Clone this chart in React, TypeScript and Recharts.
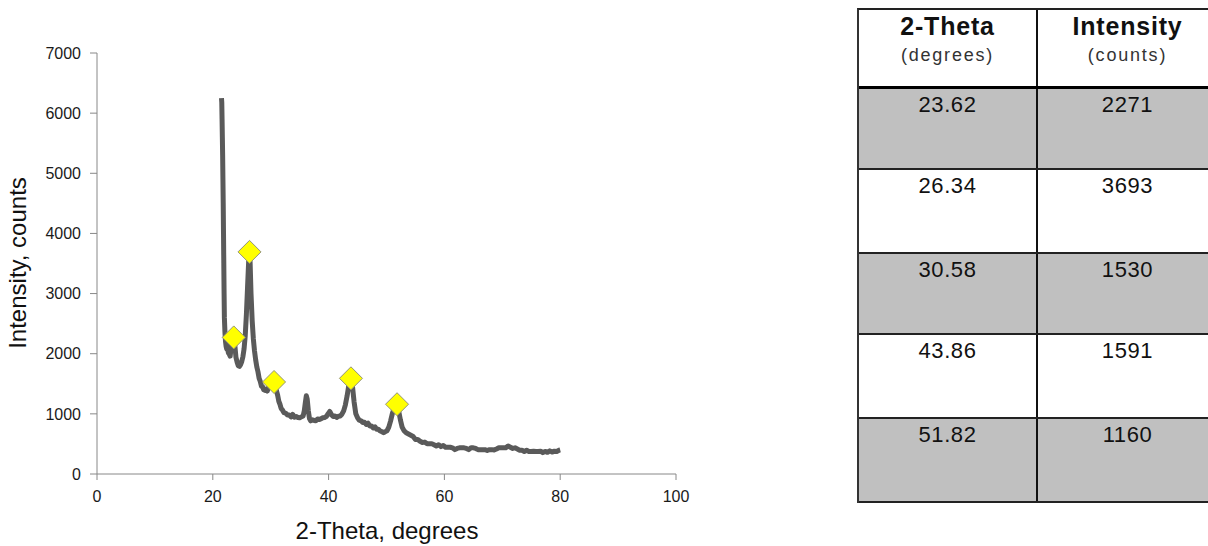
import { ComposedChart, Line, Scatter, XAxis, YAxis } from "recharts";

// diffraction scan
const theta = [
  21.5, 21.55, 21.6, 21.65, 21.7, 21.75, 21.8, 21.85, 21.9, 21.95, 22.0, 22.1, 22.2, 22.3, 22.4, 22.5,
  22.6, 22.7, 22.8, 22.9, 23.0, 23.1, 23.2, 23.3, 23.4, 23.5, 23.62, 23.7, 23.8, 23.9, 24.0, 24.2,
  24.4, 24.6, 24.8, 25.0, 25.2, 25.4, 25.6, 25.8, 26.0, 26.2, 26.34, 26.45, 26.6, 26.8, 27.0, 27.2,
  27.4, 27.6, 27.8, 28.0, 28.2, 28.4, 28.6, 28.8, 29.0, 29.2, 29.4, 29.6, 29.8, 30.0, 30.2, 30.4,
  30.58, 30.8, 31.0, 31.2, 31.4, 31.6, 31.8, 32.0, 32.3, 32.6, 32.9, 33.2, 33.5, 33.8, 34.1, 34.4,
  34.7, 35.0, 35.3, 35.6, 35.8, 36.0, 36.15, 36.3, 36.5, 36.7, 36.9, 37.2, 37.5, 37.8, 38.1, 38.4,
  38.7, 39.0, 39.3, 39.6, 39.9, 40.2, 40.5, 40.8, 41.1, 41.4, 41.7, 42.0, 42.3, 42.6, 42.9, 43.2,
  43.5, 43.86, 44.1, 44.4, 44.7, 45.0, 45.3, 45.6, 45.9, 46.2, 46.5, 46.8, 47.1, 47.4, 47.7, 48.0,
  48.3, 48.6, 48.9, 49.2, 49.5, 49.8, 50.1, 50.4, 50.7, 51.0, 51.4, 51.82, 52.1, 52.4, 52.7, 53.0,
  53.4, 53.8, 54.2, 54.6, 55.0, 55.4, 55.8, 56.2, 56.6, 57.0, 57.4, 57.8, 58.2, 58.6, 59.0, 59.4,
  59.8, 60.2, 60.6, 61.0, 61.4, 61.8, 62.2, 62.6, 63.0, 63.4, 63.8, 64.2, 64.6, 65.0, 65.4, 65.8,
  66.2, 66.6, 67.0, 67.4, 67.8, 68.2, 68.6, 69.0, 69.4, 69.8, 70.2, 70.6, 71.0, 71.4, 71.8, 72.2,
  72.6, 73.0, 73.4, 73.8, 74.2, 74.6, 75.0, 75.4, 75.8, 76.2, 76.6, 77.0, 77.4, 77.8, 78.2, 78.6,
  79.0, 79.4, 79.8, 80.0,
];
const counts = [
  6250, 6180, 5900, 5600, 5300, 4900, 4500, 4000, 3500, 3000, 2600, 2350, 2200, 2120, 2080, 2140,
  2060, 2010, 2080, 1980, 1960, 2050, 2120, 2180, 2230, 2260, 2271, 2240, 2150, 2040, 1940, 1860,
  1800, 1790, 1820, 1870, 1950, 2080, 2300, 2650, 3100, 3550, 3693, 3500, 3000, 2550, 2250, 2050,
  1900, 1780, 1700, 1590, 1540, 1460, 1450, 1400, 1390, 1410, 1380, 1430, 1440, 1480, 1500, 1530,
  1530, 1480, 1380, 1310, 1210, 1160, 1090, 1070, 1020, 1010, 980, 980, 950, 990, 945, 955,
  940, 935, 950, 965, 1050, 1200, 1300, 1250, 1050, 920, 885, 900, 890, 885, 915, 905,
  920, 935, 940, 955, 1000, 1040, 985, 955, 965, 940, 960, 965, 995, 1050, 1150, 1300,
  1480, 1591, 1480, 1200, 1000, 935, 895, 885, 855, 860, 825, 845, 800, 800, 765, 785,
  745, 745, 715, 705, 685, 705, 720, 780, 880, 1000, 1120, 1160, 1050, 900, 780, 725,
  685, 665, 645, 625, 575, 575, 545, 525, 530, 505, 505, 505, 485, 465, 485, 455,
  475, 445, 445, 445, 435, 405, 425, 435, 435, 435, 425, 405, 435, 435, 425, 405,
  405, 405, 405, 390, 405, 405, 400, 415, 435, 435, 435, 435, 465, 445, 425, 435,
  415, 395, 395, 375, 395, 375, 375, 380, 375, 375, 380, 355, 375, 360, 385, 365,
  380, 375, 395, 400,
];

const peakTheta = [23.62, 26.34, 30.58, 43.86, 51.82];
const peakCounts = [2271, 3693, 1530, 1591, 1160];

const xTicks = [0, 20, 40, 60, 80, 100];
const yTicks = [0, 1000, 2000, 3000, 4000, 5000, 6000, 7000];

const scan = theta.map((t, i) => ({ theta: t, counts: counts[i] }));
const peaks = peakTheta.map((t, i) => ({ theta: t, counts: peakCounts[i] }));

const rowHeights = [79, 81, 84, 81, 84, 84];

function Diamond(props: any) {
  const { cx, cy } = props;
  const r = 11.5;
  return (
    <polygon
      points={`${cx},${cy - r} ${cx + r},${cy} ${cx},${cy + r} ${cx - r},${cy}`}
      fill="#ffff00"
      stroke="#949477"
      strokeWidth={1}
    />
  );
}

const cellText = { fontSize: 22, lineHeight: "26px", paddingTop: 3, letterSpacing: 0.6, color: "#111" };

function PeakTable() {
  const cell = (i: number, w: number) => ({
    width: w,
    height: "100%",
    boxSizing: "border-box" as const,
    borderRight: "2px solid #111",
    textAlign: "center" as const,
    background: i % 2 === 1 ? "#c0c0c0" : "#fff",
  });
  return (
    <div
      style={{
        position: "absolute",
        left: 857,
        top: 8,
        width: 364,
        borderTop: "2px solid #222",
        borderLeft: "2px solid #333",
        boxSizing: "border-box",
      }}
    >
      <div
        style={{ display: "flex", height: rowHeights[0], borderBottom: "3px solid #000", boxSizing: "border-box" }}
      >
        {[
          ["2-Theta", "(degrees)"],
          ["Intensity", "(counts)"],
        ].map(([title, unit], c) => (
          <div key={title} style={cell(0, c === 0 ? 179 : 181)}>
            <div style={{ fontSize: 25, fontWeight: 700, lineHeight: "28px", paddingTop: 2, letterSpacing: 0.8, color: "#111" }}>
              {title}
            </div>
            <div style={{ fontSize: 18, lineHeight: "22px", marginTop: 4, letterSpacing: 1.8, color: "#333" }}>
              {unit}
            </div>
          </div>
        ))}
      </div>
      {peakTheta.map((t, i) => (
        <div
          key={t}
          style={{
            display: "flex",
            height: rowHeights[i + 1],
            borderBottom: "2px solid #222",
            boxSizing: "border-box",
          }}
        >
          <div style={cell(i + 1, 179)}>
            <div style={cellText}>{t.toFixed(2)}</div>
          </div>
          <div style={cell(i + 1, 181)}>
            <div style={cellText}>{peakCounts[i]}</div>
          </div>
        </div>
      ))}
    </div>
  );
}

export default function App() {
  return (
    <div
      style={{
        position: "relative",
        width: 1208,
        height: 546,
        overflow: "hidden",
        background: "#fff",
        fontFamily: "'Liberation Sans', Arial, sans-serif",
      }}
    >
      <style>{`body{margin:0}`}</style>
      <div style={{ position: "absolute", left: 0, top: 0 }}>
        <ComposedChart width={700} height={546} data={scan} margin={{ top: 53, right: 24, left: 37, bottom: 42 }}>
          <XAxis
            dataKey="theta"
            type="number"
            domain={[0, 100]}
            ticks={xTicks}
            stroke="#888"
            tickSize={6}
            tickMargin={11}
            fontSize={16}
            tick={{ fill: "#1a1a1a", fontSize: 16 }}
            height={30}
          />
          <YAxis
            type="number"
            domain={[0, 7000]}
            ticks={yTicks}
            stroke="#888"
            tickSize={7}
            tickMargin={9}
            fontSize={16}
            tick={{ fill: "#1a1a1a", fontSize: 16 }}
            width={60}
          />
          <Line
            dataKey="counts"
            type="linear"
            stroke="#5a5a5a"
            strokeWidth={5}
            strokeLinejoin="round"
            dot={false}
            isAnimationActive={false}
          />
          <Scatter data={peaks} dataKey="counts" shape={Diamond} isAnimationActive={false} />
        </ComposedChart>
      </div>
      <div
        style={{
          position: "absolute",
          left: 18,
          top: 263,
          transform: "translate(-50%, -50%) rotate(-90deg)",
          whiteSpace: "nowrap",
          fontSize: 24,
          color: "#111",
        }}
      >
        Intensity, counts
      </div>
      <div
        style={{
          position: "absolute",
          left: 387,
          top: 517,
          transform: "translateX(-50%)",
          whiteSpace: "nowrap",
          fontSize: 24,
          lineHeight: "28px",
          color: "#111",
        }}
      >
        2-Theta, degrees
      </div>
      <PeakTable />
    </div>
  );
}
